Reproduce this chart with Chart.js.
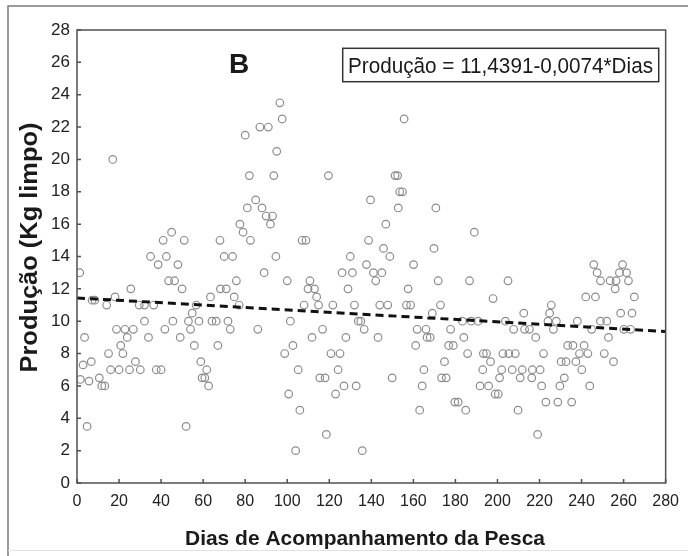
<!DOCTYPE html>
<html>
<head>
<meta charset="utf-8">
<script src="https://cdn.jsdelivr.net/npm/chart.js@4.4.1/dist/chart.umd.min.js"></script>
<style>
  html, body { margin: 0; padding: 0; background: #fff; }
  #wrap { width: 688px; height: 556px; }
</style>
</head>
<body>
<div id="wrap"><canvas id="chart" width="688" height="556"></canvas></div>
<script>
// ========== Data ==========
const dias = [
  1.3, 1.6, 2.9, 3.6, 4.8, 5.7, 6.8, 7.2, 8.5, 10.6, 11.8, 13.2, 14.1, 15, 16, 17, 18.1, 18.8, 20, 20.8,
  21.8, 22.8, 23.9, 25, 25.6, 26.8, 27.8, 29.6, 30.1, 32.1, 32.1, 34, 35, 36.5, 37.7, 38.6, 40, 41, 41.8, 42.5,
  43.6, 45, 45.6, 46.4, 48, 49.1, 50, 51, 51.9, 53, 54, 54.8, 55.8, 56.7, 58, 58.9, 59.5, 60.8, 61.7, 62.6,
  63.5, 64.2, 66.2, 67, 68, 68.2, 70, 71, 71.8, 72.9, 74, 74.8, 75.8, 77.1, 77.5, 79, 80, 81, 82, 82.5,
  85, 86, 87, 88, 89, 90, 91, 92, 93, 93.6, 94.6, 95, 96.5, 97.6, 98.8, 100, 100.7, 101.5, 102.7, 104,
  105.2, 106, 107.1, 108, 108.9, 109.9, 110.8, 111.8, 113, 114, 114.9, 115.5, 116.8, 118, 118.6, 119.6, 120.8, 121.7, 123, 124.2,
  125.1, 126.1, 127, 127.9, 128.9, 130, 131, 132, 132.8, 133.8, 135, 135.7, 136.6, 137.7, 138.7, 139.6, 141, 142.1, 143.2, 144,
  145, 145.8, 146.9, 147.8, 148.8, 149.9, 151.3, 152.5, 152.8, 153.5, 154.8, 155.6, 156.7, 157.5, 158.7, 160.1, 161.1, 161.8, 163, 164.2,
  165, 166, 166.5, 168, 169, 169.8, 170.7, 171.8, 172.9, 173.4, 174.8, 175.6, 176.8, 177.7, 179, 179.7, 181.3, 183.3, 184, 184.9,
  185.8, 186.7, 187.5, 189, 190.8, 191.7, 193, 193.3, 194.8, 195.8, 196.7, 197.9, 198.9, 200.4, 201, 202, 202.6, 203.8, 205, 205.4,
  207, 207.7, 208.5, 209.8, 210.8, 211.8, 212.5, 212.9, 215.2, 216.3, 216.6, 218.2, 219.1, 220.3, 221, 221.9, 223, 224, 224.8, 225.6,
  226.6, 228, 228.7, 229.7, 230.3, 231.8, 232.6, 233.4, 235.3, 235.9, 237.3, 238, 239, 240.1, 241.2, 242, 243, 243.9, 244.8, 245.8,
  246.6, 247.4, 249, 249, 250.8, 252, 252.8, 253.6, 255.2, 256, 256.4, 258, 258.6, 259.5, 260.1, 261.4, 262.3, 263.3, 264, 265.1
];
const producao = [
  13.0, 6.4, 7.3, 9.0, 3.5, 6.3, 7.5, 11.3, 11.3, 6.5, 6.0, 6.0, 11.0, 8.0, 7.0, 20.0, 11.5, 9.5, 7.0, 8.5,
  8.0, 9.5, 9.0, 7.0, 12.0, 9.5, 7.5, 11.0, 7.0, 11.0, 10.0, 9.0, 14.0, 11.0, 7.0, 13.5, 7.0, 15.0, 9.5, 14.0,
  12.5, 15.5, 10.0, 12.5, 13.5, 9.0, 12.0, 15.0, 3.5, 10.0, 9.5, 10.5, 8.5, 11.0, 10.0, 7.5, 6.5, 6.5, 7.0, 6.0,
  11.5, 10.0, 10.0, 8.5, 15.0, 12.0, 14.0, 12.0, 10.0, 9.5, 14.0, 11.5, 12.5, 11.0, 16.0, 15.5, 21.5, 17.0, 19.0, 15.0,
  17.5, 9.5, 22.0, 17.0, 13.0, 16.5, 22.0, 16.0, 16.5, 19.0, 14.0, 20.5, 23.5, 22.5, 8.0, 12.5, 5.5, 10.0, 8.5, 2.0,
  7.0, 4.5, 15.0, 11.0, 15.0, 12.0, 12.5, 9.0, 12.0, 11.5, 11.0, 6.5, 9.5, 6.5, 3.0, 19.0, 8.0, 11.0, 5.5, 7.0,
  8.0, 13.0, 6.0, 9.0, 12.0, 14.0, 13.0, 11.0, 6.0, 10.0, 10.0, 2.0, 9.5, 13.5, 15.0, 17.5, 13.0, 12.5, 9.0, 11.0,
  13.0, 14.5, 16.0, 11.0, 14.0, 6.5, 19.0, 19.0, 17.0, 18.0, 18.0, 22.5, 11.0, 12.0, 11.0, 13.5, 8.5, 9.5, 4.5, 6.0,
  7.0, 9.5, 9.0, 9.0, 10.5, 14.5, 17.0, 12.5, 11.0, 6.5, 7.5, 6.5, 8.5, 9.5, 8.5, 5.0, 5.0, 10.0, 9.0, 4.5,
  8.0, 12.5, 10.0, 15.5, 10.0, 6.0, 7.0, 8.0, 8.0, 6.0, 7.5, 11.4, 5.5, 5.5, 6.5, 7.0, 8.0, 10.0, 12.5, 8.0,
  7.0, 9.5, 8.0, 4.5, 6.5, 7.0, 10.5, 9.5, 9.5, 6.5, 7.0, 9.0, 3.0, 7.0, 6.0, 8.0, 5.0, 10.0, 10.5, 11.0,
  9.5, 10.0, 5.0, 6.0, 7.5, 6.5, 7.5, 8.5, 5.0, 8.5, 7.5, 10.0, 8.0, 7.0, 8.5, 11.5, 8.0, 6.0, 9.5, 13.5,
  11.5, 13.0, 12.5, 10.0, 8.0, 10.0, 9.0, 12.5, 7.5, 12.0, 12.5, 13.0, 10.5, 13.5, 9.5, 13.0, 12.5, 9.5, 10.5, 11.5
];

// regression line end points (Produção = 11,4391 - 0,0074*Dias)
const linhaDias = [0, 280];
const linhaProducao = [11.4391, 9.3671];

const xMin = 0, xMax = 280, xStep = 20;
const yMin = 0, yMax = 28, yStep = 2;

const equacao = "Produção = 11,4391-0,0074*Dias";
const painel = "B";
const tituloX = "Dias de Acompanhamento da Pesca";
const tituloY = "Produção (Kg limpo)";

const fonte = '"Liberation Sans", Arial, sans-serif';

// draw text squeezed/stretched horizontally to a given width
function fitText(ctx, text, x, y, font, width, angle) {
    ctx.save();
    ctx.font = font;
    const w = ctx.measureText(text).width;
    ctx.translate(x, y);
    if (angle) ctx.rotate(angle);
    ctx.scale(width / w, 1);
    ctx.textAlign = 'center';
    ctx.textBaseline = 'alphabetic';
    ctx.fillText(text, 0, 0);
    ctx.restore();
}

// ========== frame, inner ticks, texts ==========
const extras = {
    id: 'extras',
    beforeDraw(chart) {
        const ctx = chart.ctx;
        ctx.save();
        ctx.fillStyle = '#fff';
        ctx.fillRect(0, 0, chart.width, chart.height);
        ctx.restore();
    },
    afterDraw(chart) {
        const ctx = chart.ctx;
        const a = chart.chartArea;
        const xs = chart.scales.x;
        const ys = chart.scales.y;
        ctx.save();

        // outer figure frame
        ctx.strokeStyle = '#7a7a7a';
        ctx.lineWidth = 1.5;
        ctx.beginPath();
        ctx.moveTo(8, chart.height);
        ctx.lineTo(8, 6);
        ctx.lineTo(chart.width, 6);
        ctx.stroke();
        ctx.strokeStyle = '#e2e2e2';
        ctx.lineWidth = 1;
        ctx.beginPath();
        ctx.moveTo(8, 550.5);
        ctx.lineTo(chart.width, 550.5);
        ctx.stroke();

        // plot box
        ctx.strokeStyle = '#505050';
        ctx.lineWidth = 1.5;
        ctx.strokeRect(a.left, a.top, a.right - a.left, a.bottom - a.top);

        // inner ticks
        ctx.beginPath();
        for (let v = xMin; v <= xMax; v += xStep) {
            const px = xs.getPixelForValue(v);
            ctx.moveTo(px, a.bottom);
            ctx.lineTo(px, a.bottom - 4);
        }
        for (let v = yMin; v <= yMax; v += yStep) {
            const py = ys.getPixelForValue(v);
            ctx.moveTo(a.left, py);
            ctx.lineTo(a.left + 4, py);
        }
        ctx.stroke();

        ctx.fillStyle = '#1a1a1a';

        // panel letter
        ctx.font = 'bold 28px ' + fonte;
        ctx.textAlign = 'center';
        ctx.textBaseline = 'alphabetic';
        ctx.fillText(painel, 239, 73);

        // equation box
        ctx.strokeStyle = '#333';
        ctx.lineWidth = 1.5;
        ctx.strokeRect(342.7, 48.3, 316, 33.4);
        fitText(ctx, equacao, 500.5, 73.3, '22px ' + fonte, 305);

        // axis titles
        fitText(ctx, tituloX, 365, 545, 'bold 21px ' + fonte, 360);
        fitText(ctx, tituloY, 37.3, 247.5, 'bold 23px ' + fonte, 250, -Math.PI / 2);

        ctx.restore();
    }
};

// ========== chart ==========
const pontos = dias.map((d, i) => ({ x: d, y: producao[i] }));
const linha = linhaDias.map((d, i) => ({ x: d, y: linhaProducao[i] }));

const ctxChart = document.getElementById('chart').getContext('2d');
const myChart = new Chart(ctxChart, {
    type: 'scatter',
    data: {
        datasets: [
            {
                type: 'line',
                label: 'Regressão',
                data: linha,
                borderColor: '#111',
                borderWidth: 3,
                borderDash: [8, 5],
                pointRadius: 0,
                fill: false,
                order: 0
            },
            {
                label: 'Produção',
                data: pontos,
                pointRadius: 3.8,
                pointBorderWidth: 1.2,
                pointBorderColor: '#8c8c8c',
                pointBackgroundColor: 'rgba(0,0,0,0)',
                order: 1
            }
        ]
    },
    options: {
        responsive: false,
        animation: false,
        events: [],
        layout: { padding: { top: 30, right: 11, left: 0, bottom: 0 } },
        plugins: {
            legend: { display: false },
            tooltip: { enabled: false }
        },
        scales: {
            x: {
                type: 'linear',
                min: xMin,
                max: xMax,
                ticks: {
                    stepSize: xStep,
                    color: '#222',
                    padding: 9,
                    maxRotation: 0,
                    font: { family: fonte, size: 16 }
                },
                grid: { display: false, drawTicks: false },
                border: { display: false },
                afterFit(scale) { scale.height = 73; }
            },
            y: {
                type: 'linear',
                min: yMin,
                max: yMax,
                ticks: {
                    stepSize: yStep,
                    color: '#222',
                    padding: 7,
                    font: { family: fonte, size: 17 }
                },
                grid: { display: false, drawTicks: false },
                border: { display: false },
                afterFit(scale) { scale.width = 77; }
            }
        }
    },
    plugins: [extras]
});
</script>
</body>
</html>
